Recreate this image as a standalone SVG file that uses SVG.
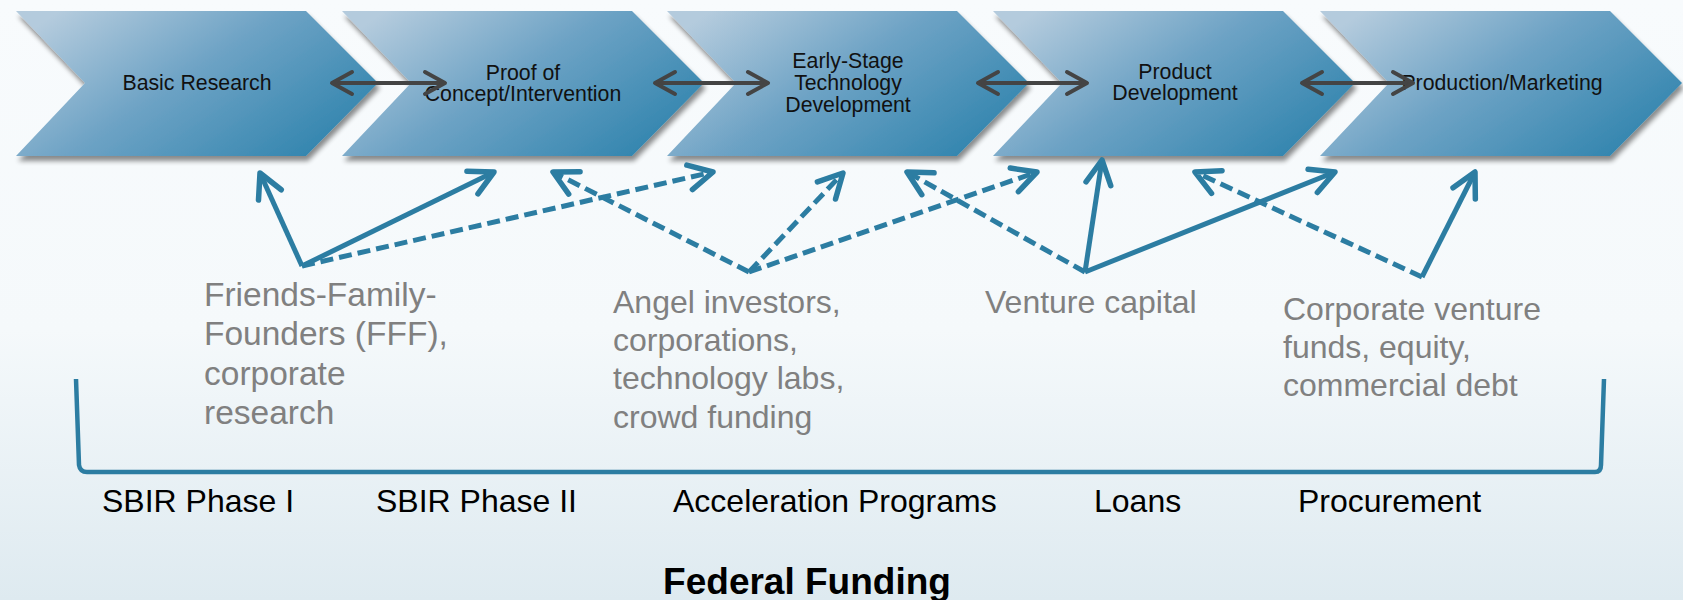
<svg xmlns="http://www.w3.org/2000/svg" width="1683" height="600" viewBox="0 0 1683 600">
  <defs>
    <linearGradient id="bg" x1="0" y1="0" x2="0" y2="1">
      <stop offset="0" stop-color="#f8fbfd"/>
      <stop offset="0.55" stop-color="#f5f9fb"/>
      <stop offset="1" stop-color="#deeaf0"/>
    </linearGradient>
    <linearGradient id="chev" x1="0" y1="0.2" x2="1" y2="0.8">
      <stop offset="0" stop-color="#b4cbdd"/>
      <stop offset="0.45" stop-color="#6ea3c5"/>
      <stop offset="1" stop-color="#2e83ad"/>
    </linearGradient>
    <filter id="shadow" x="-5%" y="-10%" width="115%" height="130%">
      <feGaussianBlur in="SourceAlpha" stdDeviation="2.5"/>
      <feOffset dx="2" dy="5" result="b"/>
      <feComponentTransfer><feFuncA type="linear" slope="0.45"/></feComponentTransfer>
      <feMerge><feMergeNode/><feMergeNode in="SourceGraphic"/></feMerge>
    </filter>
    <path id="chevShape" d="M0,11 L290,11 L362,83 L290,156 L0,156 L69,83 Z"/>
    <marker id="grayHead" viewBox="-24 -14 28 28" refX="0" refY="0" markerWidth="28" markerHeight="28" markerUnits="userSpaceOnUse" orient="auto-start-reverse">
      <path d="M-20,-11 L0,0 L-20,11" fill="none" stroke="#444444" stroke-width="4" stroke-linecap="round" stroke-linejoin="round"/>
    </marker>
    <marker id="blueHead" viewBox="-30 -16 34 32" refX="0" refY="0" markerWidth="34" markerHeight="32" markerUnits="userSpaceOnUse" orient="auto">
      <path d="M-24,-12.5 L0,0 L-24,12.5" fill="none" stroke="#2c7da2" stroke-width="5.5" stroke-linecap="round" stroke-linejoin="round" stroke-dasharray="none"/>
    </marker>
    <style>
      .node text { font-family: "Liberation Sans", Arial, sans-serif; font-size: 21.3px; fill: #111111; text-anchor: middle; }
      .src { font-family: "Liberation Sans", Arial, sans-serif; font-size: 32px; fill: #808080; }
      .src.big { font-size: 33.5px; }
      .fed { font-family: "Liberation Sans", Arial, sans-serif; font-size: 32px; fill: #000000; }
      .title { font-family: "Liberation Sans", Arial, sans-serif; font-size: 37px; font-weight: bold; fill: #000000; text-anchor: middle; }
      .dbl { stroke: #444444; stroke-width: 4; fill: none; marker-start: url(#grayHead); marker-end: url(#grayHead); }
      .solid { stroke: #2c7da2; stroke-width: 5; fill: none; stroke-linecap: butt; marker-end: url(#blueHead); }
      .dash { stroke: #2c7da2; stroke-width: 5; fill: none; stroke-dasharray: 13 6; marker-end: url(#blueHead); }
    </style>
  </defs>

  <rect x="0" y="0" width="1683" height="600" fill="url(#bg)"/>

  <g id="stage-basic-research" class="node">
    <use href="#chevShape" x="16" fill="url(#chev)" filter="url(#shadow)"/>
    <text x="197" y="90">Basic Research</text>
  </g>
  <g id="stage-proof-of-concept" class="node">
    <use href="#chevShape" x="342" fill="url(#chev)" filter="url(#shadow)"/>
    <text x="523" y="80">Proof of</text>
    <text x="523" y="101">Concept/Intervention</text>
  </g>
  <g id="stage-early-stage" class="node">
    <use href="#chevShape" x="667" fill="url(#chev)" filter="url(#shadow)"/>
    <text x="848" y="68">Early-Stage</text>
    <text x="848" y="90">Technology</text>
    <text x="848" y="112">Development</text>
  </g>
  <g id="stage-product-development" class="node">
    <use href="#chevShape" x="993" fill="url(#chev)" filter="url(#shadow)"/>
    <text x="1175" y="79">Product</text>
    <text x="1175" y="100">Development</text>
  </g>
  <g id="stage-production-marketing" class="node">
    <use href="#chevShape" x="1320" fill="url(#chev)" filter="url(#shadow)"/>
    <text x="1502" y="90">Production/Marketing</text>
  </g>

  <g id="source-fff">
    <text class="src big" x="204" y="306">Friends-Family-</text>
    <text class="src big" x="204" y="345">Founders (FFF),</text>
    <text class="src big" x="204" y="385">corporate</text>
    <text class="src big" x="204" y="424">research</text>
  </g>
  <g id="source-angel">
    <text class="src" x="613" y="313">Angel investors,</text>
    <text class="src" x="613" y="351">corporations,</text>
    <text class="src" x="613" y="389">technology labs,</text>
    <text class="src" x="613" y="428">crowd funding</text>
  </g>
  <g id="source-vc">
    <text class="src" x="985" y="313">Venture capital</text>
  </g>
  <g id="source-corporate">
    <text class="src" x="1283" y="320">Corporate venture</text>
    <text class="src" x="1283" y="358">funds, equity,</text>
    <text class="src" x="1283" y="396">commercial debt</text>
  </g>

  <g id="connectors">
    <line class="dbl" x1="332" y1="83" x2="445" y2="83"/>
    <line class="dbl" x1="655" y1="83" x2="768" y2="83"/>
    <line class="dbl" x1="978" y1="83" x2="1087" y2="83"/>
    <line class="dbl" x1="1302" y1="83" x2="1413" y2="83"/>

    <line class="solid" x1="302" y1="266" x2="260" y2="173"/>
    <line class="solid" x1="302" y1="266" x2="494" y2="172"/>
    <line class="dash" x1="302" y1="266" x2="713" y2="172"/>

    <line class="dash" x1="749" y1="272" x2="553" y2="172"/>
    <line class="dash" x1="749" y1="272" x2="843" y2="173"/>
    <line class="dash" x1="749" y1="272" x2="1037" y2="172"/>

    <line class="dash" x1="1085" y1="272" x2="907" y2="172"/>
    <line class="solid" x1="1085" y1="272" x2="1102" y2="160"/>
    <line class="solid" x1="1085" y1="272" x2="1335" y2="172"/>

    <line class="dash" x1="1422" y1="277" x2="1195" y2="172"/>
    <line class="solid" x1="1422" y1="277" x2="1475" y2="172"/>

    <path id="federal-bracket" d="M76,379 L79,465 Q80,472 87,472 L1595,472 Q1601,472 1601,465 L1604,379" fill="none" stroke="#2c7da2" stroke-width="4.5"/>
  </g>

  <g id="federal-programs">
    <text class="fed" x="102" y="512">SBIR Phase I</text>
    <text class="fed" x="376" y="512">SBIR Phase II</text>
    <text class="fed" x="673" y="512">Acceleration Programs</text>
    <text class="fed" x="1094" y="512">Loans</text>
    <text class="fed" x="1298" y="512">Procurement</text>
  </g>
  <text class="title" x="807" y="594">Federal Funding</text>
</svg>
